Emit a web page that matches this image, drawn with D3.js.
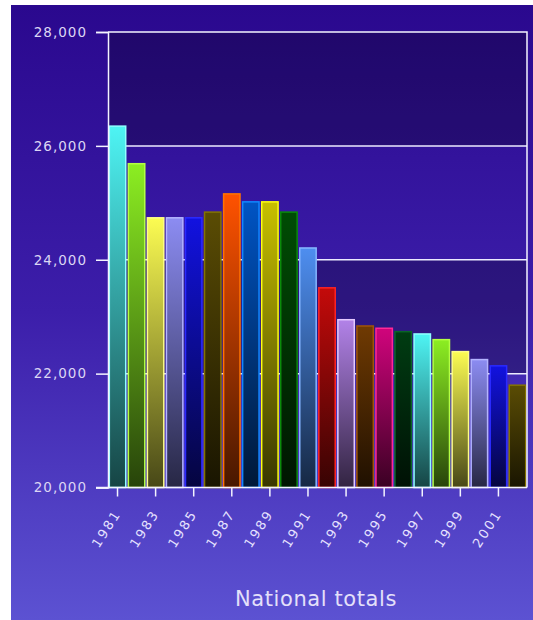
<!DOCTYPE html>
<html>
<head>
<meta charset="utf-8">
<script src="https://cdn.jsdelivr.net/npm/d3@7/dist/d3.min.js"></script>
<style>
  html, body { margin: 0; padding: 0; background: #ffffff; }
  svg { display: block; }
  text { font-family: "DejaVu Sans", Verdana, sans-serif; }
</style>
</head>
<body>
<svg id="chart" width="533" height="620"></svg>
<script>
// Annual national totals, 1981–2002
const years = [1981, 1982, 1983, 1984, 1985, 1986, 1987, 1988, 1989, 1990, 1991,
               1992, 1993, 1994, 1995, 1996, 1997, 1998, 1999, 2000, 2001, 2002];
const totals = [26360, 25700, 24750, 24750, 24750, 24850, 25170, 25030, 25030, 24850, 24220,
                23520, 22960, 22850, 22810, 22750, 22710, 22610, 22400, 22260, 22150, 21810];

// Bar palette (repeats every 16 bars): top fill colour and edge colour
const barFills   = ["#4ef4f4", "#8cee22", "#fcfc52", "#8c8cf2", "#1212e0", "#5a4c04",
                    "#ff5200", "#0054c4", "#c8c000", "#004c04", "#4e8ef0", "#c40a0a",
                    "#b282e8", "#703a02", "#d0047c", "#003c12"];
const barStrokes = ["#90ffff", "#b4ff44", "#ffff88", "#b4b4ff", "#2a2aff", "#847400",
                    "#ff7400", "#1088ff", "#ffff10", "#0a8a0a", "#86b6ff", "#ff2424",
                    "#e4c8ff", "#a05408", "#ff2896", "#0a6428"];

// Y-axis ticks and x-axis labelled years
const yTicks = [20000, 22000, 24000, 26000, 28000];
const xTickYears = [1981, 1983, 1985, 1987, 1989, 1991, 1993, 1995, 1997, 1999, 2001];
const title = "National totals";

const svg = d3.select("#chart");
const W = 533, H = 620;
const plot = { left: 108, right: 527, top: 32, bottom: 487.5 };

const defs = svg.append("defs");

// Backdrop gradient
const bg = defs.append("linearGradient").attr("id", "bg")
  .attr("x1", 0).attr("y1", 0).attr("x2", 0).attr("y2", 1);
bg.append("stop").attr("offset", "0%").attr("stop-color", "#2a088e");
bg.append("stop").attr("offset", "50%").attr("stop-color", "#3c1eaa");
bg.append("stop").attr("offset", "100%").attr("stop-color", "#5c52d2");

svg.append("rect")
  .attr("x", 11).attr("y", 5)
  .attr("width", W - 11).attr("height", H - 5)
  .attr("fill", "url(#bg)");

const x = d3.scaleBand()
  .domain(years)
  .range([plot.left, plot.right])
  .paddingInner(0.06)
  .paddingOuter(0.03);

const y = d3.scaleLinear()
  .domain([20000, 28000])
  .range([plot.bottom, plot.top]);

// Alternating shaded bands
const bands = d3.pairs(yTicks);
svg.append("g").selectAll("rect")
  .data(bands)
  .join("rect")
  .attr("x", plot.left)
  .attr("y", d => y(d[1]))
  .attr("width", plot.right - plot.left)
  .attr("height", d => y(d[0]) - y(d[1]))
  .attr("fill", "#000")
  .attr("fill-opacity", (d, i) => (i % 2 === 1 ? 0.25 : 0));

// Horizontal grid lines (behind bars)
svg.append("g").selectAll("line")
  .data(yTicks.slice(1, -1))
  .join("line")
  .attr("x1", plot.left).attr("x2", plot.right)
  .attr("y1", d => y(d)).attr("y2", d => y(d))
  .attr("stroke", "#ecebff")
  .attr("stroke-width", 1.5);

// One vertical gradient per bar colour
barFills.forEach((c, i) => {
  const g = defs.append("linearGradient").attr("id", "bar" + i)
    .attr("x1", 0).attr("y1", 0).attr("x2", 0).attr("y2", 1);
  g.append("stop").attr("offset", "0%").attr("stop-color", c);
  g.append("stop").attr("offset", "100%")
    .attr("stop-color", d3.interpolateRgb(c, "#000")(0.72));
});

const data = years.map((yr, i) => ({ year: yr, value: totals[i], k: i % barFills.length }));

svg.append("g").selectAll("rect")
  .data(data)
  .join("rect")
  .attr("x", d => x(d.year) + 0.75)
  .attr("y", d => y(d.value) + 0.75)
  .attr("width", x.bandwidth() - 1.5)
  .attr("height", d => y(20000) - y(d.value) - 0.75)
  .attr("fill", d => `url(#bar${d.k})`)
  .attr("stroke", d => barStrokes[d.k])
  .attr("stroke-width", 1.5);

// Frame: top and right edges
svg.append("path")
  .attr("d", `M${plot.left},${y(28000)}H${plot.right}V${plot.bottom}`)
  .attr("fill", "none")
  .attr("stroke", "#f4f4ff")
  .attr("stroke-width", 1.5);

// Y axis
const yAxis = svg.append("g")
  .attr("transform", `translate(${plot.left},0)`)
  .call(d3.axisLeft(y).tickValues(yTicks).tickSize(12).tickPadding(9)
    .tickFormat(d3.format(",")));
yAxis.select(".domain").attr("stroke", "#f4f4ff").attr("stroke-width", 1.5);
yAxis.selectAll(".tick line").attr("stroke", "#f4f4ff").attr("stroke-width", 1.5);
yAxis.selectAll(".tick text")
  .attr("fill", "#dcd6f4")
  .attr("font-size", 13.5)
  .attr("letter-spacing", 1)
  .attr("font-family", "DejaVu Sans, Verdana, sans-serif");

// X axis
const xAxis = svg.append("g")
  .attr("transform", `translate(0,${plot.bottom})`)
  .call(d3.axisBottom(x).tickValues(xTickYears).tickSize(9).tickPadding(4));
xAxis.select(".domain")
  .attr("d", `M${plot.left - 12},0H${plot.right}`)
  .attr("stroke", "#f4f4ff").attr("stroke-width", 1.5);
xAxis.selectAll(".tick line").attr("stroke", "#f4f4ff").attr("stroke-width", 1.5);
xAxis.selectAll(".tick text")
  .attr("fill", "#e6e2ff")
  .attr("font-size", 13)
  .attr("letter-spacing", 2.2)
  .attr("font-family", "DejaVu Sans, Verdana, sans-serif")
  .attr("text-anchor", "end")
  .attr("y", 0)
  .attr("dy", 0)
  .attr("transform", "translate(4,26) rotate(-57)");

// Title
svg.append("text")
  .attr("x", 316)
  .attr("y", 606)
  .attr("text-anchor", "middle")
  .attr("fill", "#e4e0fa")
  .attr("font-size", 21)
  .attr("letter-spacing", 0.6)
  .text(title);
</script>
</body>
</html>
